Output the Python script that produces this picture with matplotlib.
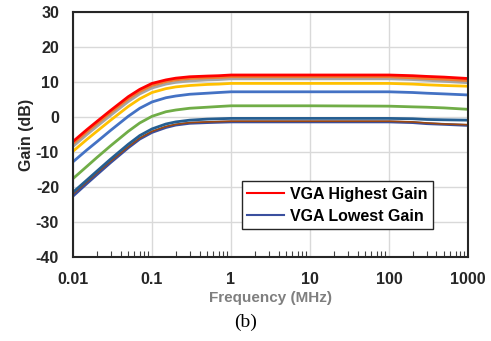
import numpy as np
import matplotlib; matplotlib.use("Agg")
import matplotlib.pyplot as plt
from matplotlib.ticker import LogLocator, FixedLocator, NullFormatter

freq = [0.01, 0.015, 0.02, 0.03, 0.05, 0.07, 0.1, 0.15, 0.2, 0.3, 0.5, 0.7,
        1, 10, 100, 200, 300, 500, 1000]

# gain curves (dB), highest gain setting first
g_red    = [-7.0, -3.6, -1.3, 1.9, 5.8, 7.9, 9.6, 10.6, 11.1, 11.5, 11.7, 11.8, 12.0, 12.0, 12.0, 11.8, 11.6, 11.4, 11.0]
g_orange = [-7.6, -4.2, -1.9, 1.3, 5.2, 7.3, 9.0, 10.1, 10.6, 11.0, 11.2, 11.3, 11.5, 11.5, 11.5, 11.2, 11.0, 10.8, 10.4]
g_gray   = [-8.4, -5.0, -2.7, 0.5, 4.4, 6.6, 8.3, 9.4, 9.9, 10.3, 10.6, 10.7, 10.9, 10.9, 10.9, 10.7, 10.5, 10.2, 9.8]
g_gold   = [-9.8, -6.4, -4.1, -0.9, 3.0, 5.2, 7.0, 8.1, 8.6, 9.0, 9.3, 9.4, 9.6, 9.6, 9.6, 9.4, 9.2, 9.0, 8.8]
g_blue   = [-12.8, -9.4, -7.1, -3.8, 0.2, 2.5, 4.3, 5.5, 6.0, 6.5, 6.8, 7.0, 7.2, 7.2, 7.2, 7.0, 6.8, 6.6, 6.3]
g_green  = [-17.6, -14.1, -11.6, -8.2, -4.1, -1.7, 0.2, 1.5, 2.0, 2.5, 2.8, 3.0, 3.2, 3.2, 3.1, 2.9, 2.8, 2.6, 2.2]
g_steel  = [-21.5, -18.0, -15.5, -12.0, -7.8, -5.3, -3.4, -2.0, -1.4, -0.9, -0.6, -0.5, -0.4, -0.4, -0.4, -0.5, -0.7, -0.8, -0.9]
g_brown  = [-22.0, -18.5, -16.0, -12.6, -8.5, -6.0, -4.1, -2.7, -2.1, -1.6, -1.4, -1.3, -1.2, -1.2, -1.2, -1.4, -1.7, -2.0, -2.2]
g_navy   = [-22.6, -19.0, -16.5, -13.0, -8.8, -6.3, -4.4, -3.0, -2.3, -1.8, -1.6, -1.5, -1.4, -1.4, -1.4, -1.6, -1.9, -2.1, -2.4]

series = [(g_navy, "#3A4F9E"), (g_brown, "#9E480E"), (g_steel, "#255E91"),
          (g_green, "#70AD47"), (g_blue, "#4472C4"), (g_gold, "#FFC000"),
          (g_gray, "#A5A5A5"), (g_orange, "#ED7D31"), (g_red, "#FF0000")]

plt.rcParams["font.family"] = ["Liberation Sans", "DejaVu Sans"]
plt.rcParams["axes.unicode_minus"] = False

fig = plt.figure(figsize=(4.91, 3.41), dpi=100)
ax = fig.add_axes([0.1487, 0.2463, 0.8043, 0.7185])

for y, c in series:
    lw = 1.2 if c == "#9E480E" else 2.0
    ax.plot(freq, y, color=c, lw=lw, solid_capstyle="butt")

ax.set_xscale("log")
ax.set_xlim(0.01, 1000)
ax.set_ylim(-40, 30)
ax.set_yticks(range(-40, 31, 10))
ax.xaxis.set_major_locator(FixedLocator([0.01, 0.1, 1, 10, 100, 1000]))
ax.set_xticklabels(["0.01", "0.1", "1", "10", "100", "1000"])
ax.xaxis.set_minor_locator(LogLocator(base=10, subs=np.arange(2, 10)))
ax.xaxis.set_minor_formatter(NullFormatter())
ax.grid(True, which="major", color="#D9D9D9", lw=1.0)
ax.set_axisbelow(True)

ax.tick_params(axis="both", which="major", length=0, labelsize=11.5,
               labelcolor="#262626")
ax.tick_params(axis="y", which="major", pad=10)
ax.tick_params(axis="x", which="major", pad=11)
ax.tick_params(axis="x", which="minor", direction="in", length=4, width=0.8,
               color="#404040")
for lbl in ax.get_xticklabels() + ax.get_yticklabels():
    lbl.set_fontweight("bold")
for sp in ax.spines.values():
    sp.set_color("#262626")
    sp.set_linewidth(1.5)

ax.set_ylabel("Gain (dB)", fontsize=11.5, fontweight="bold", color="#262626", labelpad=1)
ax.set_xlabel("Frequency (MHz)", fontsize=11, fontweight="bold", color="#7F7F7F", labelpad=3)

h1, = ax.plot([], [], color="#FF0000", lw=1.5)
h2, = ax.plot([], [], color="#3A4F9E", lw=1.5)
leg = ax.legend([h1, h2], ["VGA Highest Gain", "VGA Lowest Gain"],
                loc="upper left", bbox_to_anchor=(0.427, 0.31),
                fancybox=False, framealpha=1, edgecolor="#262626",
                prop={"weight": "bold", "size": 11.5}, handlelength=2.3,
                handletextpad=0.4, borderpad=0.35, labelspacing=0.45,
                borderaxespad=0)
leg.get_frame().set_linewidth(1.0)

fig.text(0.5, 0.056, "(b)", ha="center", va="center", fontsize=14,
         family=["Liberation Serif", "DejaVu Serif"])

fig.savefig("out.png", dpi=100)
